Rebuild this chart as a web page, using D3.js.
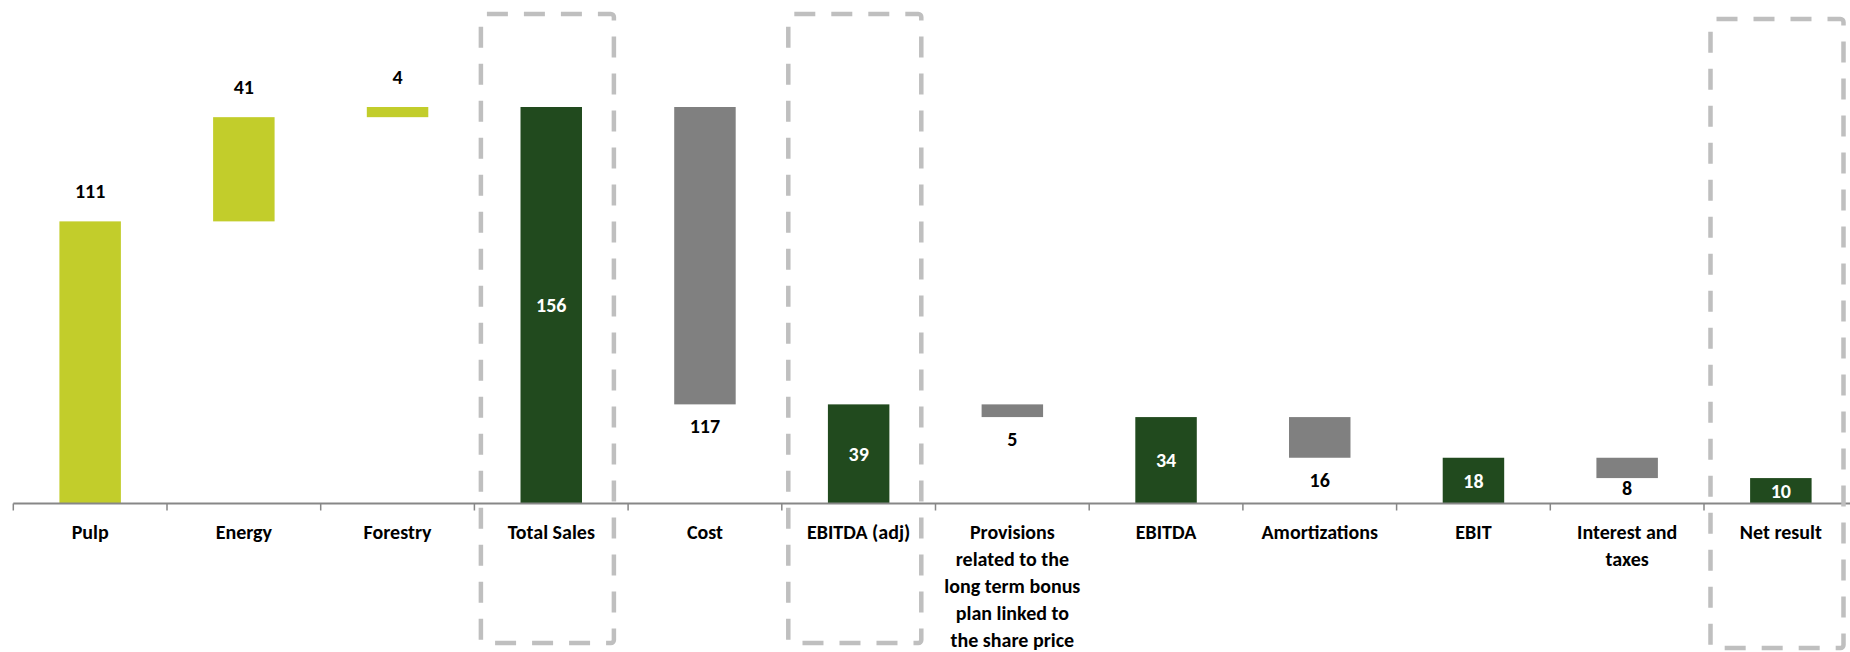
<!DOCTYPE html>
<html>
<head>
<meta charset="utf-8">
<script src="https://cdn.jsdelivr.net/npm/d3@7"></script>
<style>
	html, body { margin: 0; padding: 0; background: #fff; }
	svg { display: block; }
	text { font-family: Calibri, Carlito, Lato, sans-serif; font-weight: bold; font-size: 20px; }
</style>
</head>
<body>
<svg id="chart"></svg>
<script>
// categories, one line of the label per "\n"
var categories = [
	"Pulp", "Energy", "Forestry", "Total Sales", "Cost", "EBITDA (adj)",
	"Provisions\nrelated to the\nlong term bonus\nplan linked to\nthe share price",
	"EBITDA", "Amortizations", "EBIT", "Interest and\ntaxes", "Net result"
];
var values = [111, 41, 4, 156, 117, 39, 5, 34, 16, 18, 8, 10];
// up = adds to the running total, down = takes from it, total = bar from zero
var kinds = ["up", "up", "up", "total", "down", "total", "down", "total", "down", "total", "down", "total"];
var highlighted = ["Total Sales", "EBITDA (adj)", "Net result"];

var colors = { up: "#c2cd2b", down: "#808080", total: "#214a1e" };

window.addEventListener("load", function () {
	var width = 1850, height = 652;
	var axisY = 503.5, topY = 107;
	var left = 13.3, step = 153.7;

	var svg = d3.select("#chart")
		.attr("width", width)
		.attr("height", height);

	// work out start / end of every bar
	var running = 0;
	var bars = categories.map(function (cat, i) {
		var v = values[i], kind = kinds[i], start, end;
		if (kind == "up") {
			start = running; end = running + v; running = end;
		}
		else if (kind == "down") {
			start = running - v; end = running; running = start;
		}
		else {
			start = 0; end = v; running = v;
		}
		return { cat: cat, value: v, kind: kind, start: start, end: end };
	});

	var x = d3.scaleBand()
		.domain(categories)
		.range([left, left + step * categories.length])
		.paddingInner(0.6)
		.paddingOuter(0.3);

	var y = d3.scaleLinear()
		.domain([0, d3.max(bars, function (d) { return d.end; })])
		.range([axisY, topY]);

	var bandStart = function (cat) {
		return x(cat) - x.step() * x.paddingOuter();
	};

	// bars
	svg.append("g").selectAll("rect")
		.data(bars)
		.enter().append("rect")
		.attr("x", function (d) { return x(d.cat); })
		.attr("width", x.bandwidth())
		.attr("y", function (d) { return y(d.end); })
		.attr("height", function (d) { return Math.max(1, y(d.start) - y(d.end)); })
		.attr("fill", function (d) { return colors[d.kind]; });

	// axis line with ticks on the category boundaries
	var axis = svg.append("g").attr("class", "axis");
	axis.append("line")
		.attr("x1", left).attr("x2", width)
		.attr("y1", axisY).attr("y2", axisY)
		.attr("stroke", "#878787")
		.attr("stroke-width", 2);
	var boundaries = categories.map(bandStart);
	boundaries.push(bandStart(categories[categories.length - 1]) + x.step());
	axis.selectAll(".tick")
		.data(boundaries)
		.enter().append("line")
		.attr("class", "tick")
		.attr("x1", function (d) { return d; })
		.attr("x2", function (d) { return d; })
		.attr("y1", axisY)
		.attr("y2", axisY + 7)
		.attr("stroke", "#878787")
		.attr("stroke-width", 1.5);

	// category labels
	var labels = svg.append("g").selectAll("text")
		.data(bars)
		.enter().append("text")
		.attr("text-anchor", "middle")
		.attr("fill", "#000")
		.attr("transform", function (d) { return "translate(" + (x(d.cat) + x.bandwidth() / 2) + "," + 532 + ")"; });
	labels.selectAll("tspan")
		.data(function (d) { return d.cat.split("\n"); })
		.enter().append("tspan")
		.attr("x", 0)
		.attr("y", function (d, i) { return i * 27; })
		.attr("dy", "0.35em")
		.text(function (d) { return d; });

	// value labels
	svg.append("g").selectAll("text")
		.data(bars)
		.enter().append("text")
		.attr("text-anchor", "middle")
		.attr("dy", "0.35em")
		.attr("x", function (d) { return x(d.cat) + x.bandwidth() / 2; })
		.attr("y", function (d) {
			if (d.kind == "total") {
				return (y(d.start) + y(d.end)) / 2;
			}
			else if (d.kind == "up") {
				return y(d.end) - 30;
			}
			// below the bar, but never on the axis
			return Math.min(y(d.start) + 22, axisY - 16);
		})
		.attr("fill", function (d) { return d.kind == "total" ? "#fff" : "#000"; })
		.text(function (d) { return d.value; });

	// dashed frames round the totals that matter (last one sits a bit lower)
	svg.append("g").selectAll("rect")
		.data(highlighted)
		.enter().append("rect")
		.attr("x", function (d) { return bandStart(d) + 6.5; })
		.attr("y", function (d, i) { return i == highlighted.length - 1 ? 19 : 14; })
		.attr("width", 133)
		.attr("height", 629)
		.attr("rx", 3)
		.attr("fill", "none")
		.attr("stroke", "#bfbfbf")
		.attr("stroke-width", 4.5)
		.attr("stroke-dasharray", "21,16")
		.attr("stroke-dashoffset", -3);
});
</script>
</body>
</html>
